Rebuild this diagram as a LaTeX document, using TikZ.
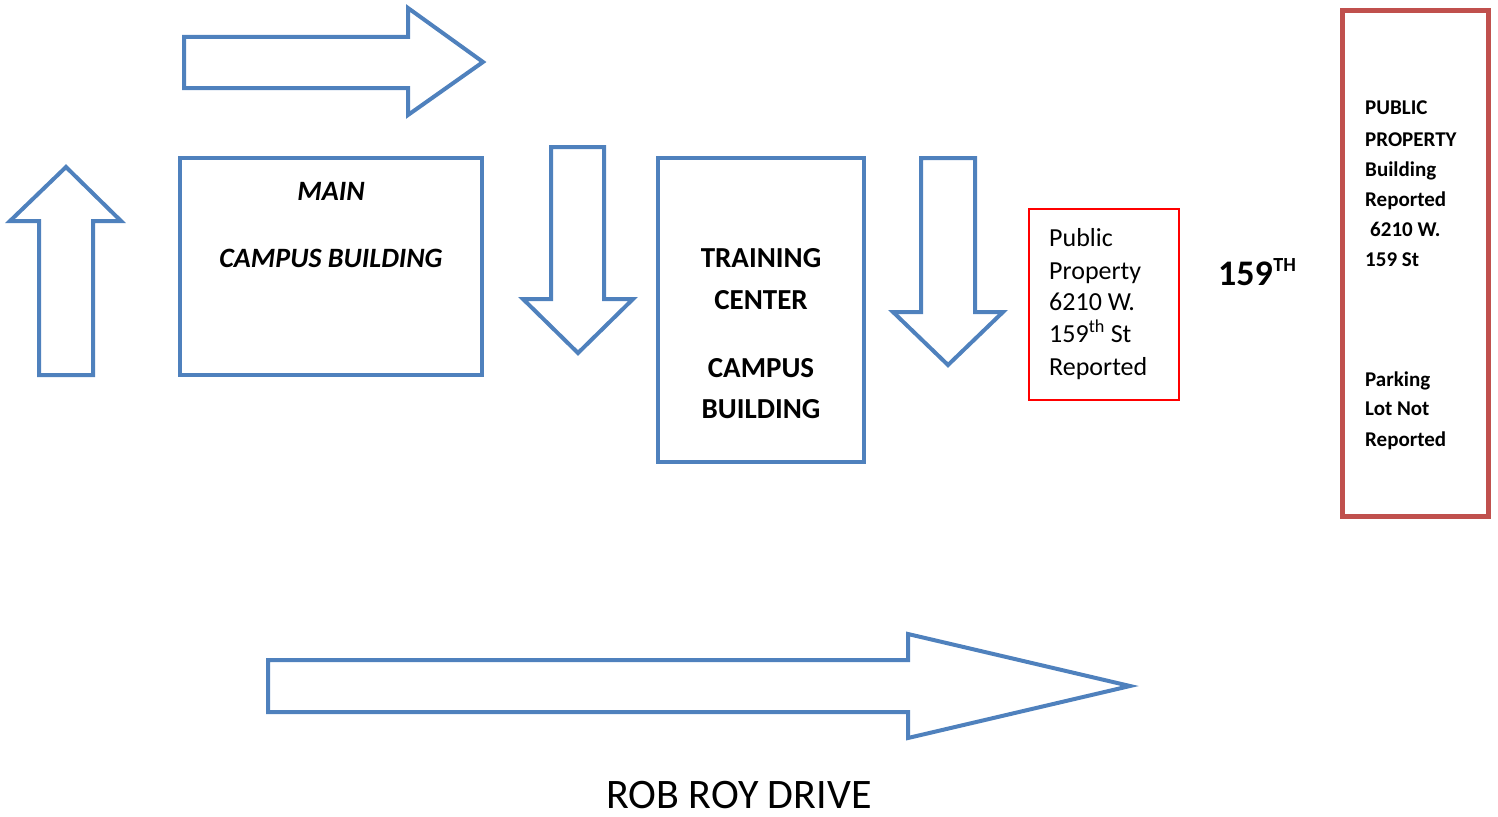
\documentclass[tikz,border=0pt]{standalone}
\usepackage{fontspec}
\setmainfont{Carlito}
\definecolor{arrowblue}{HTML}{4F81BD}
\definecolor{boxred}{HTML}{C0504D}
\definecolor{brightred}{HTML}{FF0000}
\begin{document}
\begin{tikzpicture}[x=1pt,y=-1pt,
  blueshape/.style={draw=arrowblue,line width=4pt,line join=miter},
  boxnode/.style={rectangle,anchor=north west,inner sep=0pt,outer sep=0pt},
  lbl/.style={inner sep=0pt,text=black},
  redtxt/.style={lbl,anchor=base west,font=\fontsize{26}{32}\selectfont},
  righttxt/.style={lbl,anchor=base west,font=\fontsize{21}{26}\selectfont\bfseries},
  tctxt/.style={lbl,anchor=base,font=\fontsize{29}{35}\selectfont\bfseries},
  maintxt/.style={lbl,anchor=base,font=\fontsize{28}{34}\selectfont\bfseries\itshape}]
\useasboundingbox (0,0) rectangle (1498,816);
% arrows
\draw[blueshape] (39,375) -- (39,221) -- (10,221) -- (66,167) -- (121,221) -- (93,221) -- (93,375) -- cycle;
\draw[blueshape] (184,37) -- (408,37) -- (408,8) -- (483,62) -- (408,115) -- (408,88) -- (184,88) -- cycle;
\draw[blueshape] (551,147) -- (604,147) -- (604,299) -- (633,299) -- (578,353) -- (523,299) -- (551,299) -- cycle;
\draw[blueshape] (921,158) -- (975,158) -- (975,312) -- (1003,312) -- (948,365) -- (893,312) -- (921,312) -- cycle;
\draw[blueshape] (268,660) -- (908,660) -- (908,634) -- (1130,686) -- (908,738) -- (908,712) -- (268,712) -- cycle;
% boxes
\node[blueshape,boxnode,minimum width=302pt,minimum height=217pt] (mainbox) at (180,158) {};
\node[blueshape,boxnode,minimum width=206pt,minimum height=304pt] (tcbox) at (658,158) {};
\node[boxnode,draw=brightred,line width=1.5pt,minimum width=150pt,minimum height=191pt] (redbox) at (1029,209) {};
\node[boxnode,draw=boxred,line width=5pt,minimum width=146pt,minimum height=505pt] (rightbox) at (1342,11) {};
% main building text
\node[maintxt] (m1) at (331,200) {MAIN};
\node[maintxt] (m2) at (331,267) {CAMPUS BUILDING};
% training center text
\node[tctxt] (t1) at (761,267) {TRAINING};
\node[tctxt] (t2) at (761,309) {CENTER};
\node[tctxt] (t3) at (761,377) {CAMPUS};
\node[tctxt] (t4) at (761,418) {BUILDING};
% red box text
\node[redtxt] (r1) at (1049,246) {Public};
\node[redtxt] (r2) at (1049,279) {Property};
\node[redtxt] (r3) at (1049,310) {6210 W.};
\node[redtxt] (r4) at (1049,342) {159\textsuperscript{th} St};
\node[redtxt] (r5) at (1049,375) {Reported};
% 159TH
\node[lbl,anchor=base west,font=\fontsize{36}{40}\selectfont\bfseries] (st) at (1218,285) {159};
\node[lbl,anchor=base west,font=\fontsize{20}{24}\selectfont\bfseries] (sth) at (st.base east) [yshift=14pt] {TH};
% right box text
\node[righttxt] (p1) at (1365,114) {PUBLIC};
\node[righttxt] (p2) at (1365,146) {PROPERTY};
\node[righttxt] (p3) at (1365,176) {Building};
\node[righttxt] (p4) at (1365,206) {Reported};
\node[righttxt] (p5) at (1370,236) {6210 W.};
\node[righttxt] (p6) at (1365,266) {159 St};
\node[righttxt] (p7) at (1365,386) {Parking};
\node[righttxt] (p8) at (1365,415) {Lot Not};
\node[righttxt] (p9) at (1365,446) {Reported};
% road label
\node[lbl,anchor=base,font=\fontsize{42}{48}\selectfont] (road) at (739,808) {ROB ROY DRIVE};
\end{tikzpicture}
\end{document}
